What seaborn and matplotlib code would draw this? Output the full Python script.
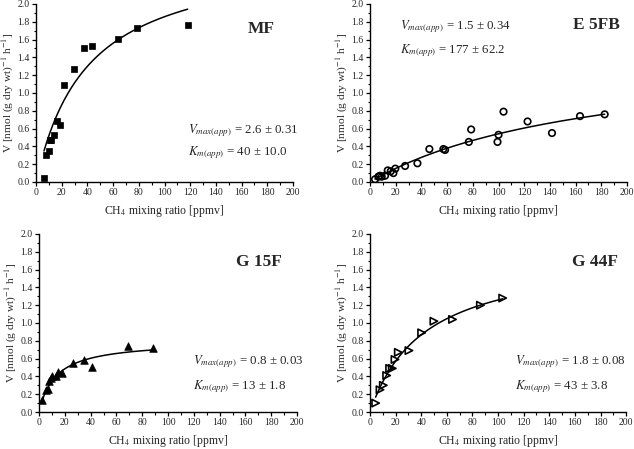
import matplotlib
matplotlib.use('Agg')
import matplotlib.pyplot as plt
from matplotlib.ticker import MultipleLocator, FormatStrFormatter
import numpy as np
import pandas as pd
import seaborn as sns

# MF - filled squares
mf_x = [6.2, 7.8, 10.1, 11.2, 12.0, 13.8, 16.4, 18.7, 21.6, 29.6, 37.7, 43.4, 64.0, 78.8, 118.0]
mf_y = [0.05, 0.30, 0.35, 0.47, 0.47, 0.53, 0.69, 0.64, 1.09, 1.27, 1.51, 1.53, 1.61, 1.73, 1.76]

# E 5FB - open circles
e5_x = [3.9, 6.5, 7.8, 9.1, 11.7, 13.8, 16.1, 18.2, 19.7, 27.3, 36.9, 46.2, 57.1, 58.4,
        76.9, 78.7, 99.2, 100.0, 103.9, 122.6, 141.6, 163.4, 182.6]
e5_y = [0.03, 0.06, 0.07, 0.06, 0.07, 0.13, 0.12, 0.10, 0.15, 0.18, 0.21, 0.37, 0.37, 0.36,
        0.45, 0.59, 0.45, 0.53, 0.79, 0.68, 0.55, 0.74, 0.76]

# G 15F - filled triangles
g15_x = [2.1, 5.2, 6.7, 8.0, 9.1, 10.3, 12.9, 15.0, 18.1, 26.6, 35.2, 40.9, 69.1, 88.5]
g15_y = [0.13, 0.25, 0.26, 0.35, 0.38, 0.41, 0.41, 0.45, 0.44, 0.55, 0.58, 0.50, 0.74, 0.72]

# G 44F - open right triangles
g44_x = [4.4, 7.8, 10.4, 13.0, 15.3, 17.4, 19.5, 22.1, 30.4, 40.3, 49.9, 64.4, 86.2, 103.6]
g44_y = [0.10, 0.25, 0.30, 0.41, 0.49, 0.49, 0.59, 0.67, 0.69, 0.89, 1.02, 1.04, 1.20, 1.28]

names = ['MF', 'E 5FB', 'G 15F', 'G 44F']
vmax = [2.6, 1.5, 0.8, 1.8]
vmax_err = ['0.31', '0.34', '0.03', '0.08']
km = [40, 177, 13, 43]
km_err = ['10.0', '62.2', '1.8', '3.8']

sns.set_style('ticks')
plt.rcParams['font.family'] = ['Liberation Serif', 'DejaVu Serif']
plt.rcParams['mathtext.fontset'] = 'stix'
plt.rcParams['xtick.direction'] = 'out'
plt.rcParams['ytick.direction'] = 'out'

fig = plt.figure(figsize=(6.34, 4.49), dpi=100)
fig.patch.set_facecolor('white')

boxes = [
    [0.0568, 0.5947, 0.4054, 0.3964],
    [0.5836, 0.5947, 0.4054, 0.3964],
    [0.0615, 0.0824, 0.4070, 0.3965],
    [0.5836, 0.0824, 0.4040, 0.3965],
]
data = [(mf_x, mf_y), (e5_x, e5_y), (g15_x, g15_y), (g44_x, g44_y)]
markers = ['s', 'o', '^', '>']
filled = [True, False, True, False]
sizes = [24, 22, 30, 28]
name_pos = [(165, 1.72), (158, 1.76), (153, 1.68), (158, 1.68)]
par_pos = [(118, 0.58, 0.33), (23, 1.74, 1.48), (119, 0.57, 0.29), (113, 0.57, 0.29)]

for i in range(4):
    ax = fig.add_axes(boxes[i])
    x, y = data[i]
    df = pd.DataFrame({'x': x, 'y': y})
    xs = np.linspace(min(x), max(x), 200)
    fit = pd.DataFrame({'x': xs, 'y': vmax[i] * xs / (km[i] + xs)})
    sns.lineplot(data=fit, x='x', y='y', ax=ax, color='black', lw=1.1)
    if filled[i]:
        sns.scatterplot(data=df, x='x', y='y', ax=ax, marker=markers[i], s=sizes[i],
                        color='black', edgecolor='black', linewidth=0.5, zorder=3)
    else:
        sns.scatterplot(data=df, x='x', y='y', ax=ax, marker=markers[i], s=sizes[i],
                        facecolor='none', edgecolor='black', linewidth=1.2, zorder=3)
    ax.set_xlim(0, 200)
    ax.set_ylim(0, 2.0)
    ax.xaxis.set_major_locator(MultipleLocator(20))
    ax.xaxis.set_minor_locator(MultipleLocator(10))
    ax.yaxis.set_major_locator(MultipleLocator(0.2))
    ax.yaxis.set_minor_locator(MultipleLocator(0.1))
    ax.yaxis.set_major_formatter(FormatStrFormatter('%.1f'))
    ax.tick_params(which='major', length=3, width=0.9, labelsize=7, pad=1.5, color='black')
    ax.tick_params(which='minor', length=1.8, width=0.8, color='black')
    sns.despine(ax=ax)
    for s in ['left', 'bottom']:
        ax.spines[s].set_linewidth(1.0)
        ax.spines[s].set_color('black')
    ax.set_xlabel(r'CH$_4$ mixing ratio [ppmv]', fontsize=8.5, labelpad=4)
    ax.set_ylabel(r'V [nmol (g dry wt)$^{-1}$ h$^{-1}$]', fontsize=8.2, labelpad=1)
    ax.set_facecolor('white')

    ax.text(name_pos[i][0], name_pos[i][1], names[i], fontsize=12.5, fontweight='bold',
            ha='left', va='center')
    px, py1, py2 = par_pos[i]
    ax.text(px, py1, r'$V_{max(app)}$' + f' = {vmax[i]} ± {vmax_err[i]}',
            fontsize=9.3, ha='left', va='center')
    ax.text(px, py2, r'$K_{m(app)}$' + f' = {km[i]} ± {km_err[i]}',
            fontsize=9.3, ha='left', va='center')

fig.savefig('out.png', dpi=100, facecolor='white')
